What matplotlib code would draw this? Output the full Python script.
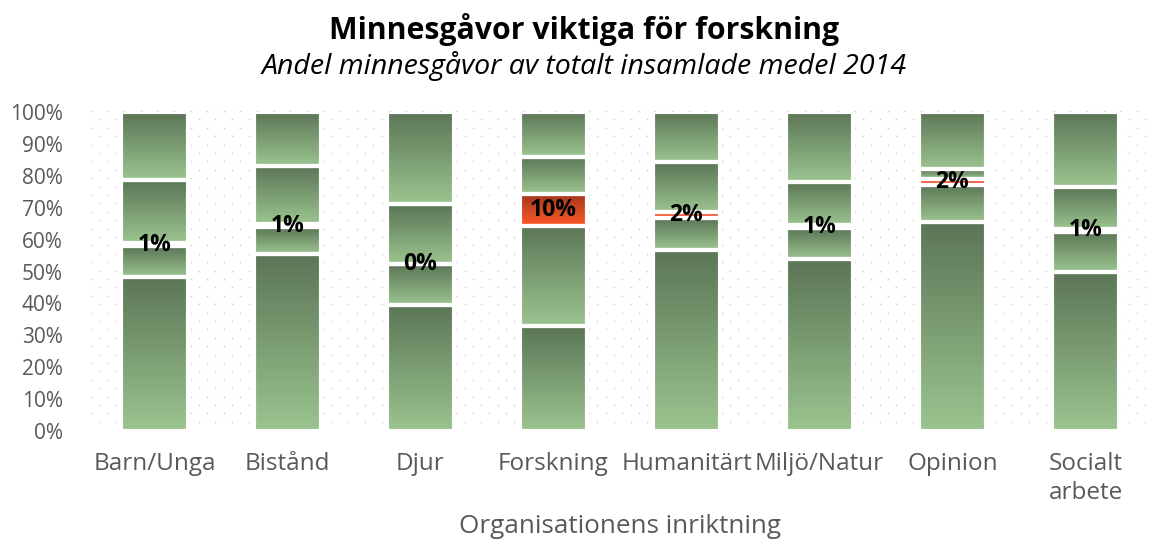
import numpy as np
import matplotlib
matplotlib.use("Agg")
import matplotlib.pyplot as plt
from matplotlib.colors import LinearSegmentedColormap

categories = ["Barn/Unga", "Bistånd", "Djur", "Forskning", "Humanitärt",
              "Miljö/Natur", "Opinion", "Socialt\narbete"]
seg1 = [48.3, 55.4, 39.6, 32.8, 56.8, 53.9, 65.4, 49.8]
seg2 = [9.6, 8.4, 12.6, 31.4, 10.0, 9.6, 11.7, 12.6]
minnesgavor = [1.0, 1.0, 0.3, 10.0, 1.8, 1.0, 1.8, 1.0]
seg4 = [19.8, 18.3, 18.6, 11.6, 15.6, 13.5, 3.1, 13.0]
seg5 = [21.3, 16.9, 28.9, 14.2, 15.8, 22.0, 18.0, 23.6]
yticks = [0, 10, 20, 30, 40, 50, 60, 70, 80, 90, 100]

FONT = "Open Sans"
GRAY = "#595959"

fig = plt.figure(figsize=(11.56, 5.45), dpi=100)
ax = fig.add_axes([88 / 1156, 1 - 431 / 545, 1064 / 1156, 319 / 545])

green = LinearSegmentedColormap.from_list("g", ["#9bc48f", "#5b7556"])
red = LinearSegmentedColormap.from_list("r", ["#ff5a28", "#a3361b"])
redline = LinearSegmentedColormap.from_list("rl", ["#f0502a", "#f0502a"])
grad = np.linspace(0, 1, 256).reshape(-1, 1)

x = np.arange(len(categories))
series = [seg1, seg2, minnesgavor, seg4, seg5]
bottom = np.zeros(len(categories))
for si, vals in enumerate(series):
    bars = ax.bar(x, vals, width=0.5, bottom=bottom, facecolor="none",
                  edgecolor="white", linewidth=3.0, zorder=3)
    for i, r in enumerate(bars.patches):
        cmap = green
        if si == 2:
            cmap = red if vals[i] >= 5 else redline
        x0, y0, w, h = r.get_x(), r.get_y(), r.get_width(), r.get_height()
        ax.imshow(grad, cmap=cmap, extent=[x0, x0 + w, y0, y0 + h],
                  origin="lower", aspect="auto", zorder=2, interpolation="bicubic")
    if si == 2:
        for i, v in enumerate(vals):
            ax.text(x[i], bottom[i] + v / 2, f"{round(v):.0f}%", ha="center",
                    va="center", fontsize=16.5, fontweight="bold", color="black",
                    family=FONT, zorder=5)
    bottom = bottom + np.array(vals)

ax.set_xlim(-0.5, len(categories) - 0.5)
ax.set_ylim(0, 100)

# dotted background
px_w, px_h = 1064, 319
pts_x, pts_y = [], []
row = 0
yy = 112 - 1
while yy <= 430:
    off = 0 if row % 2 == 0 else 8.3
    xx = 91 + off
    while xx <= 1150:
        pts_x.append((xx - 88) / px_w)
        pts_y.append(1 - (yy - 112) / px_h)
        xx += 16.6
    yy += 8.4
    row += 1
ax.scatter(pts_x, pts_y, s=1.6, color="#d4d4d4", transform=ax.transAxes,
           zorder=0, clip_on=False, linewidths=0)

for s in ax.spines.values():
    s.set_visible(False)
ax.set_yticks(yticks)
ax.set_yticklabels([f"{t}%" for t in yticks], family=FONT, fontsize=15, color=GRAY)
ax.set_xticks(x)
ax.set_xticklabels(categories, family=FONT, fontsize=17.5, color=GRAY,
                   linespacing=1.3, va="top")
ax.tick_params(axis="both", length=0)
ax.tick_params(axis="y", pad=18)
ax.tick_params(axis="x", pad=15)
ax.set_xlabel("Organisationens inriktning", family=FONT, fontsize=18.8,
              color=GRAY, labelpad=6)

fig.text(0.505, 1 - 29 / 545, "Minnesgåvor viktiga för forskning", ha="center",
         va="center", fontsize=21.8, fontweight="bold", family=FONT, color="black")
fig.text(0.505, 1 - 66 / 545, "Andel minnesgåvor av totalt insamlade medel 2014",
         ha="center", va="center", fontsize=20.5, style="italic", family=FONT,
         color="black")

fig.savefig("out.png", dpi=100)
